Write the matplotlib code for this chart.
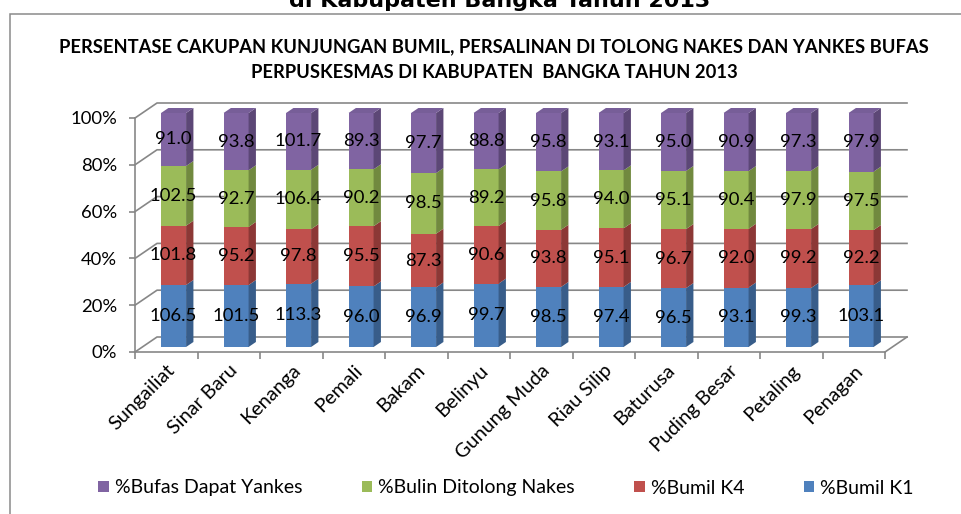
import matplotlib
matplotlib.use("Agg")
import matplotlib.pyplot as plt
from matplotlib.patches import Polygon, Rectangle, Patch
from matplotlib.lines import Line2D
import numpy as np

plt.rcParams['font.family'] = ['Lato', 'DejaVu Sans']

# ---------------- data ----------------
categories = ["Sungailiat", "Sinar Baru", "Kenanga", "Pemali", "Bakam", "Belinyu",
              "Gunung Muda", "Riau Silip", "Baturusa", "Puding Besar", "Petaling", "Penagan"]
bumil_k1 = [106.5, 101.5, 113.3, 96.0, 96.9, 99.7, 98.5, 97.4, 96.5, 93.1, 99.3, 103.1]
bumil_k4 = [101.8, 95.2, 97.8, 95.5, 87.3, 90.6, 93.8, 95.1, 96.7, 92.0, 99.2, 92.2]
bulin_nakes = [102.5, 92.7, 106.4, 90.2, 98.5, 89.2, 95.8, 94.0, 95.1, 90.4, 97.9, 97.5]
bufas_yankes = [91.0, 93.8, 101.7, 89.3, 97.7, 88.8, 95.8, 93.1, 95.0, 90.9, 97.3, 97.9]

series_names = ["%Bumil K1", "%Bumil K4", "%Bulin Ditolong Nakes", "%Bufas Dapat Yankes"]
series_values = [bumil_k1, bumil_k4, bulin_nakes, bufas_yankes]
front_colors = ["#4F81BD", "#C0504D", "#9BBB59", "#8064A2"]
side_colors = ["#385D8A", "#8C3836", "#71893F", "#5C4776"]
top_colors = ["#4A79B2", "#B44B48", "#92B154", "#775E98"]
yticks = [0, 20, 40, 60, 80, 100]
ytick_labels = ["0%", "20%", "40%", "60%", "80%", "100%"]

title_lines = "PERSENTASE CAKUPAN KUNJUNGAN BUMIL, PERSALINAN DI TOLONG NAKES DAN YANKES BUFAS\nPERPUSKESMAS DI KABUPATEN  BANGKA TAHUN 2013"
doc_title = "di Kabupaten Bangka Tahun 2013"

# ---------------- figure ----------------
W, H = 961, 514
fig = plt.figure(figsize=(W / 100, H / 100), dpi=100)
fig.patch.set_facecolor("white")

def fx(px):
    return px / W

def fy(py):
    return 1 - py / H

# cut-off document title and chart frame
fig.text(fx(500), fy(7), doc_title, ha="center", va="baseline",
         fontsize=16, fontweight="bold", family="DejaVu Sans", color="black")
fig.add_artist(Rectangle((fx(10), fy(560)), fx(1000), fy(14) - fy(560),
                         transform=fig.transFigure, fill=False,
                         edgecolor="#8A8A8A", linewidth=1.1))

fig.text(fx(494), fy(60), title_lines, ha="center", va="center",
         fontsize=13.2, fontweight="bold", linespacing=1.62, color="black")

# ---------------- axes (front plane) ----------------
n = len(categories)
ax = fig.add_axes([fx(135), fy(352), fx(885) - fx(135), fy(118) - fy(352)])
ax.set_xlim(0, n)
ax.set_ylim(0, 100)
ax.patch.set_alpha(0)

grid_color = "#878787"
ddx = 22 / (750 / n)      # depth offset in category units
ddy = 15 / (234 / 100)    # depth offset in percent units

# walls: gridlines on left side wall and back wall
for yv in yticks:
    ax.add_line(Line2D([0, ddx, n + ddx], [yv, yv + ddy, yv + ddy],
                       color=grid_color, lw=1.2, clip_on=False, zorder=0.5))
# floor right edge
ax.add_line(Line2D([n, n + ddx], [0, ddy], color=grid_color, lw=1.2,
                   clip_on=False, zorder=0.5))

for s in ["top", "right"]:
    ax.spines[s].set_visible(False)
for s in ["left", "bottom"]:
    ax.spines[s].set_color(grid_color)
    ax.spines[s].set_linewidth(1.2)

ax.set_yticks(yticks)
ax.set_yticklabels(ytick_labels, fontsize=13.3)
ax.tick_params(axis="y", length=4, width=1.2, color=grid_color, pad=9)

ax.set_xticks(np.arange(0, n + 1))
ax.set_xticklabels([])
ax.tick_params(axis="x", which="major", length=5, width=1.2, color=grid_color)
ax.set_xticks(np.arange(n) + 0.5, minor=True)
ax.set_xticklabels(categories, minor=True, rotation=45, ha="right",
                   rotation_mode="anchor", fontsize=14.3)
ax.tick_params(axis="x", which="minor", length=0, pad=7)

# ---------------- bars ----------------
vals = np.array(series_values, dtype=float)
totals = vals.sum(axis=0)
shares = vals / totals * 100

bw = 0.4
ox = ddx / 3
oy = ddy / 3
sx = ddx / 3
sy = ddy / 3
x_left = np.arange(n) + 0.5 - bw / 2 + ox

bottom = np.zeros(n)
for k in range(len(series_names)):
    h = shares[k]
    ax.bar(x_left, h, width=bw, bottom=bottom + oy, align="edge",
           color=front_colors[k], edgecolor="none", clip_on=False, zorder=2,
           label=series_names[k])
    for i in range(n):
        b = bottom[i] + oy
        xr = x_left[i] + bw
        side = Polygon([(xr, b), (xr + sx, b + sy), (xr + sx, b + h[i] + sy), (xr, b + h[i])],
                       closed=True, facecolor=side_colors[k], edgecolor="none",
                       clip_on=False, zorder=2)
        ax.add_patch(side)
        if k == len(series_names) - 1:
            t = b + h[i]
            top = Polygon([(x_left[i], t), (x_left[i] + sx, t + sy), (xr + sx, t + sy), (xr, t)],
                          closed=True, facecolor=top_colors[k], edgecolor="none",
                          clip_on=False, zorder=2)
            ax.add_patch(top)
        ax.text(x_left[i] + bw / 2, b + h[i] / 2, f"{vals[k][i]:.1f}",
                ha="center", va="center", fontsize=13.3, color="black",
                zorder=5, clip_on=False)
    bottom = bottom + h

# ---------------- legend ----------------
order = [3, 2, 1, 0]
handles = [Patch(facecolor=front_colors[k], edgecolor="none") for k in order]
labels = [series_names[k] for k in order]
fig.legend(handles, labels, loc="center", bbox_to_anchor=(fx(506), fy(488)),
           ncol=4, frameon=False, fontsize=14, handlelength=0.55,
           handleheight=0.55, handletextpad=0.3, columnspacing=3.05)

fig.savefig("out.png", dpi=100, facecolor="white")
